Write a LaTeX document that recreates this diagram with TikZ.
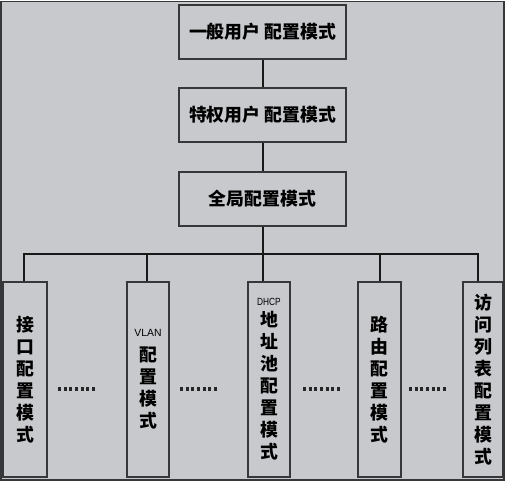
\documentclass[tikz,border=0pt]{standalone}
\usepackage{fontspec}
\setmainfont{Liberation Sans}
\newfontfamily\cjk{Noto Sans CJK SC}
\newfontfamily\latn{Liberation Sans}
\definecolor{bg}{RGB}{200,201,205}
\definecolor{edge}{RGB}{55,55,58}
\newcommand{\smalllabel}[2]{{\latn\mdseries\fontsize{7.8}{8}\selectfont\scalebox{#1}[1]{#2}}}
\begin{document}
\begin{tikzpicture}[x=0.75pt,y=-0.75pt,
  box/.style={draw=edge, line width=0.95pt, fill=bg, inner sep=0pt,
    font=\cjk\bfseries\fontsize{13.4}{16.5}\selectfont, align=center},
  topbox/.style={box, minimum width=125.25pt, minimum height=40.5pt},
  modebox/.style={box, minimum height=146.25pt},
  link/.style={draw=black!90, line width=1.5pt},
  dotrow/.style={draw=black!85, line width=2.3pt, dash pattern=on 2.3pt off 1.95pt}]
\useasboundingbox (0,0) rectangle (505,482);
\fill[white] (0,0) rectangle (505,482);
\draw[draw=edge, line width=0.8pt, fill=bg] (1,1.5) rectangle (504,480);

% top chain
\node[topbox] (g) at (262.5,32) {一般用户\hspace{3pt}配置模式};
\node[topbox] (p) at (262.5,115) {特权用户\hspace{3pt}配置模式};
\node[topbox] (c) at (262.5,199) {全局配置模式};

% bottom modes
\node[modebox, minimum width=33pt] (m1) at (25,379.5) {接\\口\\配\\置\\模\\式};
\node[modebox, minimum width=31.5pt] (m2) at (148,379.5) {\smalllabel{1}{VLAN}\\[2pt]配\\置\\模\\式};
\node[modebox, minimum width=31.5pt] (m3) at (269,379.5) {\smalllabel{0.8}{DHCP}\\[-1pt]地\\址\\池\\配\\置\\模\\式};
\node[modebox, minimum width=32.25pt] (m4) at (379.5,379.5) {路\\由\\配\\置\\模\\式};
\node[modebox, minimum width=30pt] (m5) at (483,379.5) {访\\问\\列\\表\\配\\置\\模\\式};

% bus coordinates
\coordinate (t1) at (24,254);
\coordinate (t2) at (147,254);
\coordinate (t3) at (262.5,254);
\coordinate (t4) at (380,254);
\coordinate (t5) at (478,254);

% connectors
\draw[link] (g) -- (p);
\draw[link] (p) -- (c);
\draw[link] (c) -- (t3);
\draw[link] (t1 |- m1.north) -- (t1) -- (t5) -- (t5 |- m5.north);
\draw[link] (t2) -- (t2 |- m2.north);
\draw[link] (t3) -- (t3 |- m3.north);
\draw[link] (t4) -- (t4 |- m4.north);

% dot rows
\draw[dotrow] (58,389) -- (95,389);
\draw[dotrow] (180,389) -- (218,389);
\draw[dotrow] (303,389) -- (342,389);
\draw[dotrow] (409,389) -- (447,389);
\end{tikzpicture}
\end{document}
